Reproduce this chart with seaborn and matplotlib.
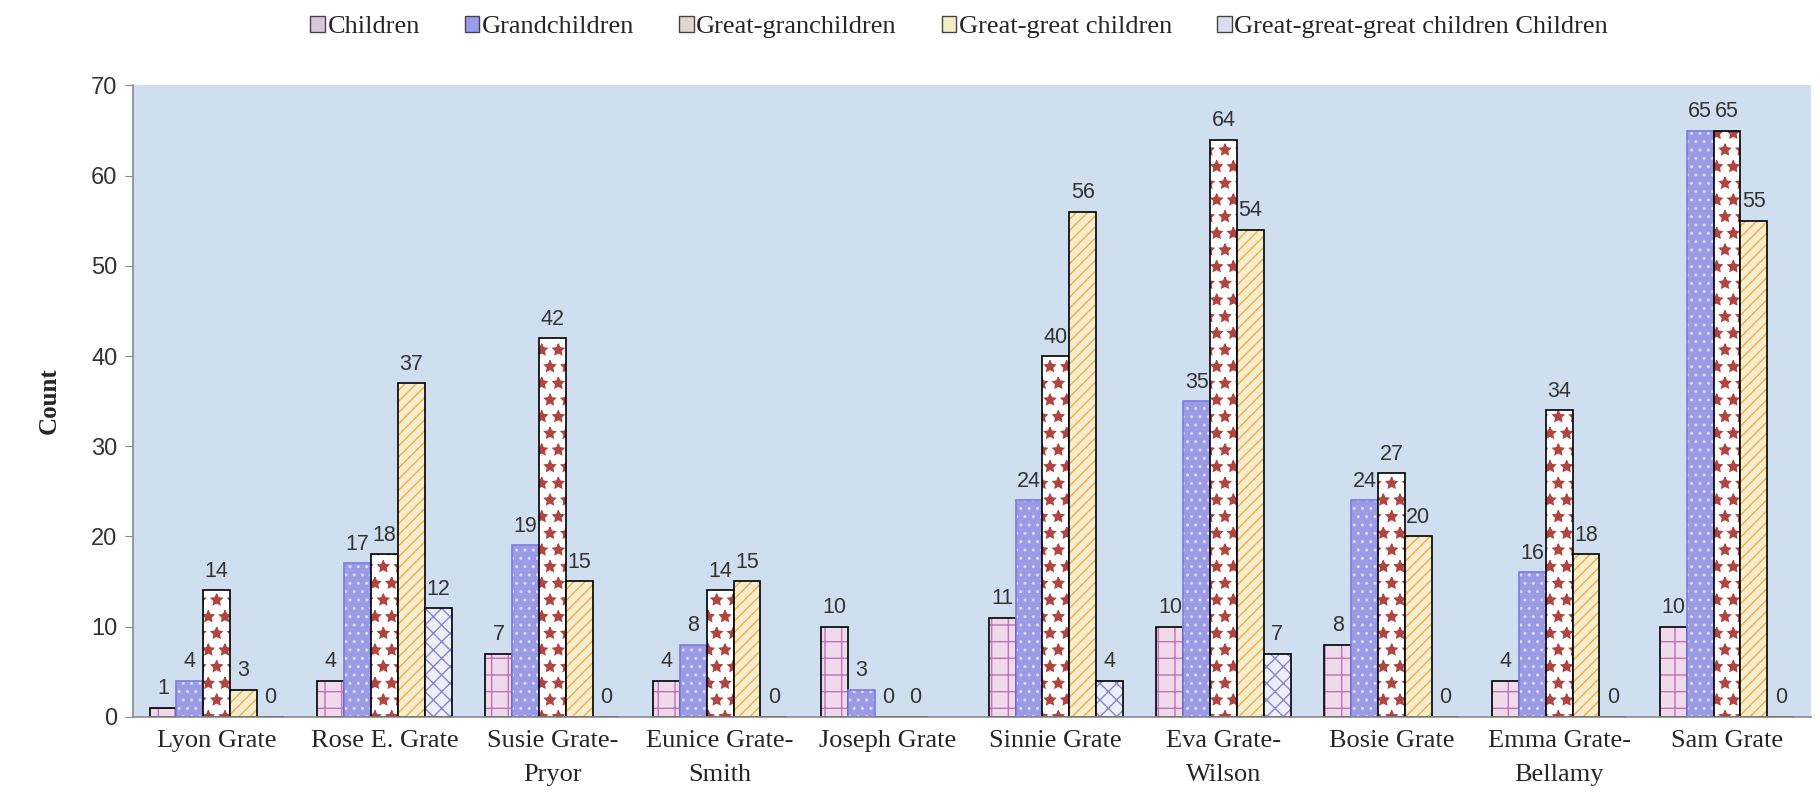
import matplotlib
matplotlib.use("Agg")
import matplotlib.pyplot as plt
import matplotlib.colors as mcolors
from matplotlib.patches import Patch
import numpy as np
import pandas as pd
import seaborn as sns

# data
people = ["Lyon Grate", "Rose E. Grate", "Susie Grate-\nPryor", "Eunice Grate-\nSmith",
          "Joseph Grate", "Sinnie Grate", "Eva Grate-\nWilson", "Bosie Grate",
          "Emma Grate-\nBellamy", "Sam Grate"]
series = ["Children", "Grandchildren", "Great-granchildren", "Great-great children",
          "Great-great-great children Children"]
children = [1, 4, 7, 4, 10, 11, 10, 8, 4, 10]
grandchildren = [4, 17, 19, 8, 3, 24, 35, 24, 16, 65]
great_gran = [14, 18, 42, 14, 0, 40, 64, 27, 34, 65]
great_great = [3, 37, 15, 15, 0, 56, 54, 20, 18, 55]
great_great_great = [0, 12, 0, 0, np.nan, 4, 7, 0, 0, 0]

faces = ["#f3d6ef", "#8d8df2", "#ffffff", "#fdf1c6", "#ececf9"]
legend_faces = ["#dcc4e0", "#9a9af0", "#e6d2d2", "#f3ecc8", "#dcdcee"]
hatch_cols = ["#c36fba", "#dcdcff", "#b0443f", "#f0ac4c", "#8585d6"]
edge_cols = ["black", "#7b7be2", "black", "black", "black"]
hatches = ["+", "..", "*", "///", "xx"]

df = pd.DataFrame({
    "person": people * 5,
    "series": np.repeat(series, len(people)),
    "count": children + grandchildren + great_gran + great_great + great_great_great,
})

sns.set_style("white")

fig = plt.figure(figsize=(18.2, 7.99), dpi=100)
ax = fig.add_axes([0.073, 0.103, 0.922, 0.79])
ax.set_facecolor("#cfdff0")

sns.barplot(data=df, x="person", y="count", hue="series", hue_order=series,
            order=people, palette=faces, width=0.8, legend=False, ax=ax,
            edgecolor="black", linewidth=1.2)

for i, cont in enumerate(ax.containers):
    for p in cont:
        p.set_hatch(hatches[i])
        p.set_edgecolor(edge_cols[i])
        p._hatch_color = mcolors.to_rgba(hatch_cols[i])
    ax.bar_label(cont, fmt="%g", padding=6, fontsize=15.5, color="#333333",
                 family="Liberation Sans")

ax.set_ylim(0, 70)
ax.set_yticks(range(0, 71, 10))
ax.set_xlim(-0.5, len(people) - 0.5)
for s in ["top", "right"]:
    ax.spines[s].set_visible(False)
for s in ["left", "bottom"]:
    ax.spines[s].set_color("#8a8a8a")
    ax.spines[s].set_linewidth(1.2)
ax.tick_params(axis="y", left=True, length=6, color="#8a8a8a", labelsize=17,
               labelcolor="#333333", pad=5)
ax.tick_params(axis="x", bottom=False, labelsize=19, pad=6)
for t in ax.get_yticklabels():
    t.set_family("Liberation Sans")
for t in ax.get_xticklabels():
    t.set_family("Liberation Serif")
    t.set_linespacing(1.7)

ax.set_xlabel("")
ax.set_ylabel("Count", family="Liberation Serif", fontsize=18, fontweight="bold")
ax.yaxis.set_label_coords(-0.043, 0.5)

handles = [Patch(facecolor=legend_faces[i], edgecolor="#444444", linewidth=1)
           for i in range(len(series))]
fig.legend(handles, series, loc="upper center", bbox_to_anchor=(0.527, 1.01),
           ncol=5, frameon=False, prop={"family": "Liberation Serif", "size": 19},
           handlelength=0.55, handleheight=0.55, handletextpad=0.1,
           columnspacing=1.7)

fig.savefig("out.png", dpi=100)
